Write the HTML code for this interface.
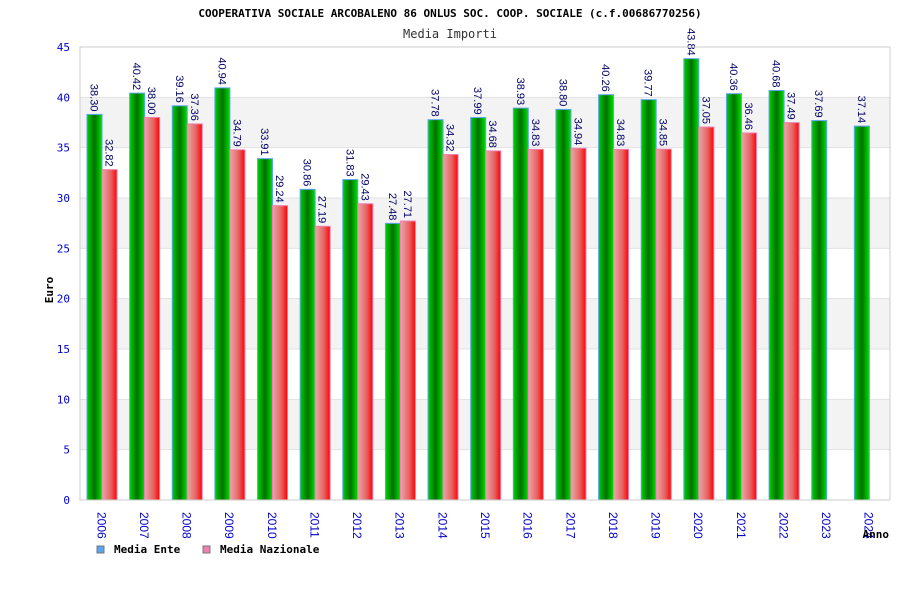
<!DOCTYPE html>
<html><head><meta charset="utf-8"><style>
body{margin:0;background:#fff;}
svg text{font-family:"DejaVu Sans Mono","Liberation Mono",monospace;}
svg text.v{font-family:"Liberation Sans","DejaVu Sans",sans-serif;}
</style></head><body>
<svg width="900" height="600" id="chart" xmlns="http://www.w3.org/2000/svg">
<defs>
<linearGradient id="gG" x1="0" x2="1" y1="0" y2="0"><stop offset="0" stop-color="#00d000"/><stop offset="0.5" stop-color="#007000"/><stop offset="1" stop-color="#00e000"/></linearGradient>
<linearGradient id="gR" x1="0" x2="1" y1="0" y2="0"><stop offset="0" stop-color="#e8a8a8"/><stop offset="0.6" stop-color="#e86060"/><stop offset="1" stop-color="#ff0000"/></linearGradient>
</defs>
<text x="450" y="17" text-anchor="middle" font-size="11" font-weight="bold" fill="#000">COOPERATIVA SOCIALE ARCOBALENO 86 ONLUS SOC. COOP. SOCIALE (c.f.00686770256)</text>
<text x="450" y="38" text-anchor="middle" font-size="12" fill="#333">Media Importi</text>
<g id="grid"></g>
<g id="bars"></g>
<g id="axes"></g>
<text transform="translate(53,290) rotate(-90)" text-anchor="middle" font-size="11" font-weight="bold" fill="#000">Euro</text>
<text x="889" y="538" text-anchor="end" font-size="11" font-weight="bold" fill="#000">Anno</text>
<g>
<rect x="97" y="546" width="7" height="7" fill="#5aa6ee" stroke="#777"/>
<text x="114" y="553" font-size="11" font-weight="bold">Media Ente</text>
<rect x="203" y="546" width="7" height="7" fill="#f080b0" stroke="#777"/>
<text x="220" y="553" font-size="11" font-weight="bold">Media Nazionale</text>
</g>
</svg>
<script>
const categories=["2006","2007","2008","2009","2010","2011","2012","2013","2014","2015","2016","2017","2018","2019","2020","2021","2022","2023","2024"];
const ente=[38.30,40.42,39.16,40.94,33.91,30.86,31.83,27.48,37.78,37.99,38.93,38.80,40.26,39.77,43.84,40.36,40.68,37.69,37.14];
const nazionale=[32.82,38.00,37.36,34.79,29.24,27.19,29.43,27.71,34.32,34.68,34.83,34.94,34.83,34.85,37.05,36.46,37.49,null,null];
const yTicks=[0,5,10,15,20,25,30,35,40,45];
const NS="http://www.w3.org/2000/svg";
const L=80,R=890,T=47,B=500,YMAX=45;
const y=v=>B-(v/YMAX)*(B-T);
const cw=(R-L)/categories.length;
const x=i=>L+i*cw;
function mk(tag,attrs,parent,txt){const e=document.createElementNS(NS,tag);for(const k in attrs)e.setAttribute(k,attrs[k]);if(txt!=null)e.textContent=txt;parent.appendChild(e);return e;}
const grid=document.getElementById('grid'),bars=document.getElementById('bars'),axes=document.getElementById('axes');
mk('rect',{x:L,y:T,width:R-L,height:B-T,fill:'#fff'},grid);
for(let k=0;k<yTicks.length-1;k++){
  if(k%2===1){const r=mk('rect',{x:L,y:y(yTicks[k+1]),width:R-L,height:y(yTicks[k])-y(yTicks[k+1]),fill:'#f3f3f3'},grid);
  
  }
}
yTicks.forEach(t=>{
  const l=mk('line',{x1:L,x2:R,y1:y(t),y2:y(t),stroke:'#e2e2e2'},grid);
  
  
  const tx=mk('text',{x:L-10,y:y(t)+4,'text-anchor':'end','font-size':11,fill:'#0000cc'},axes,String(t));
  
  
});
mk('rect',{x:L,y:T,width:R-L,height:B-T,fill:'none',stroke:'#ccc'},axes);
const bw=15;
categories.forEach((c,i)=>{
  const gx=x(i)+7;
  const v=ente[i];
  const g=mk('rect',{x:gx,y:y(v),width:bw,height:B-y(v),fill:'url(#gG)',stroke:'#5aa6ee','stroke-width':1},bars);
  
  
  const gl=mk('text',{class:'v',transform:`translate(${gx+bw/2-4},${y(v)-3}) rotate(90)`,'text-anchor':'end','font-size':11,fill:'#000066'},bars,v.toFixed(2));
  
  
  const n=nazionale[i];
  if(n!=null){
    const rx=gx+bw;
    const r=mk('rect',{x:rx,y:y(n),width:bw,height:B-y(n),fill:'url(#gR)',stroke:'#f080b0','stroke-width':1},bars);
    
    
    const rl=mk('text',{class:'v',transform:`translate(${rx+bw/2-4},${y(n)-3}) rotate(90)`,'text-anchor':'end','font-size':11,fill:'#000066'},bars,n.toFixed(2));
    
    
  }
  const cx=x(i)+cw/2;
  const xl=mk('text',{class:'v',transform:`translate(${cx-4},512) rotate(90)`,'font-size':12,fill:'#0000cc'},axes,c);
  
  
});
</script>
</body></html>
